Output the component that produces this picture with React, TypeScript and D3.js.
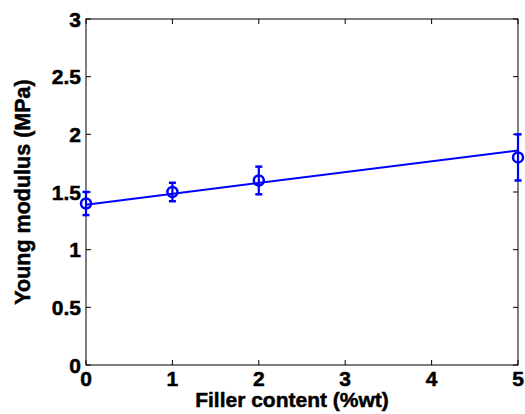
import React from "react";
import * as d3 from "d3";

// Measured Young modulus vs filler content
const fillerContent = [0, 1, 2, 5];
const modulusMean = [1.4, 1.5, 1.6, 1.8];
const modulusErr = [0.1, 0.08, 0.12, 0.2];

// Fitted trend line endpoints
const fitX = [0, 5];
const fitY = [1.39, 1.86];

const xTicks = [0, 1, 2, 3, 4, 5];
const yTicks = [0, 0.5, 1, 1.5, 2, 2.5, 3];

const W = 525;
const H = 414;
const margin = { left: 86, right: 7, top: 19, bottom: 49 };
const BLUE = "#0000ff";
const FONT = "'Liberation Sans', Arial, Helvetica, sans-serif";

export default function App() {
  const x = d3.scaleLinear().domain([0, 5]).range([margin.left, W - margin.right]);
  const y = d3.scaleLinear().domain([0, 3]).range([H - margin.bottom, margin.top]);
  const [x0, x1] = x.range();
  const [y0, y1] = y.range();
  const tick = 5;

  const line = d3
    .line<number>()
    .x((_, i) => x(fitX[i]))
    .y((d) => y(d));

  const textStyle = { stroke: "#000", strokeWidth: 0.5 };

  return (
    <svg
      width={W}
      height={H}
      style={{ position: "absolute", left: 0, top: 0, background: "#fff" }}
      fontFamily={FONT}
    >
      {/* axes box */}
      <rect x={x0} y={y1} width={x1 - x0} height={y0 - y1} fill="none" stroke="#000" strokeWidth={1} />

      {/* x ticks, bottom and top */}
      {xTicks.map((t) => (
        <g key={"xt" + t}>
          <line x1={x(t)} x2={x(t)} y1={y0} y2={y0 - tick} stroke="#000" />
          <line x1={x(t)} x2={x(t)} y1={y1} y2={y1 + tick} stroke="#000" />
          <text
            x={x(t)}
            y={y0 + 21}
            textAnchor="middle"
            fontSize={21}
            fontWeight="bold"
            style={textStyle}
          >
            {t}
          </text>
        </g>
      ))}

      {/* y ticks, left and right */}
      {yTicks.map((t) => (
        <g key={"yt" + t}>
          <line x1={x0} x2={x0 + tick} y1={y(t)} y2={y(t)} stroke="#000" />
          <line x1={x1} x2={x1 - tick} y1={y(t)} y2={y(t)} stroke="#000" />
          <text
            x={x0 - 5}
            y={y(t)}
            dy="0.36em"
            textAnchor="end"
            fontSize={21}
            fontWeight="bold"
            style={textStyle}
          >
            {t}
          </text>
        </g>
      ))}

      {/* trend line */}
      <path d={line(fitY) || ""} fill="none" stroke={BLUE} strokeWidth={2} />

      {/* error bars and markers */}
      {fillerContent.map((c, i) => {
        const cx = x(c);
        const top = y(modulusMean[i] + modulusErr[i]);
        const bot = y(modulusMean[i] - modulusErr[i]);
        return (
          <g key={"pt" + i} stroke={BLUE} strokeWidth={2.2} fill="none">
            <line x1={cx} x2={cx} y1={top} y2={bot} />
            <line x1={cx - 3.5} x2={cx + 3.5} y1={top} y2={top} strokeWidth={2.5} />
            <line x1={cx - 3.5} x2={cx + 3.5} y1={bot} y2={bot} strokeWidth={2.5} />
            <circle cx={cx} cy={y(modulusMean[i])} r={5} strokeWidth={2.5} />
          </g>
        );
      })}

      {/* axis titles */}
      <text
        x={292}
        y={H - 7}
        textAnchor="middle"
        fontSize={21}
        fontWeight="bold"
        style={textStyle}
      >
        Filler content (%wt)
      </text>
      <text
        transform={`translate(30, ${(y0 + y1) / 2}) rotate(-90)`}
        textAnchor="middle"
        fontSize={21.5}
        fontWeight="bold"
        style={textStyle}
      >
        Young modulus (MPa)
      </text>
    </svg>
  );
}
